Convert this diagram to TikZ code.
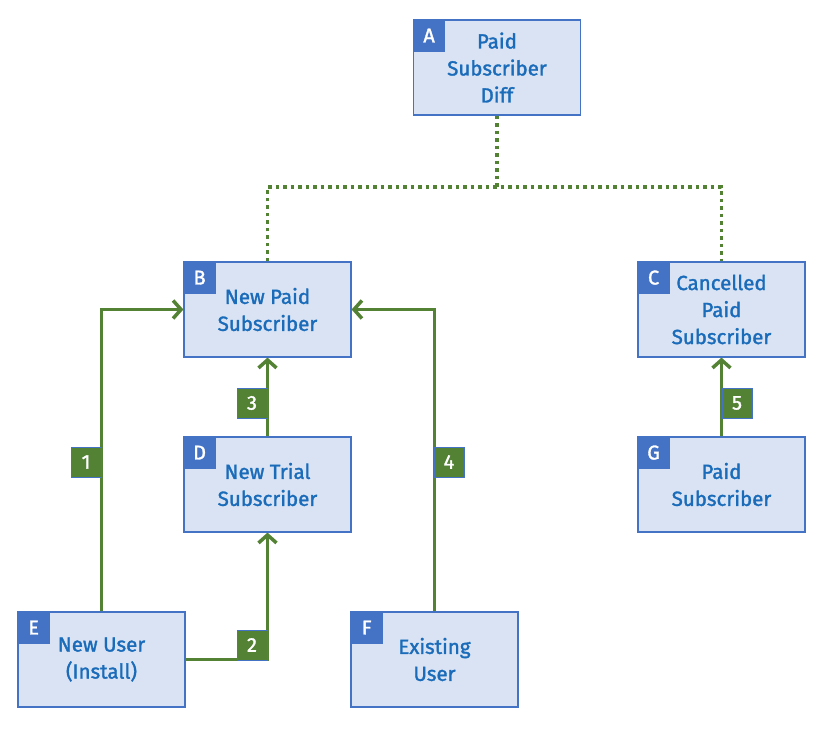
\documentclass[tikz,border=0pt]{standalone}
\usepackage{fontspec}
\setmainfont[FakeBold=1.6]{Fira Sans}
\usetikzlibrary{arrows.meta}
\definecolor{boxfill}{HTML}{DAE3F3}
\definecolor{boxline}{HTML}{4472C4}
\definecolor{txtblue}{HTML}{1A6CBA}
\definecolor{grn}{HTML}{548235}
\tikzset{
  box/.style={draw=boxline, line width=1.2pt, fill=boxfill, minimum width=167pt, minimum height=95pt, inner sep=0pt, align=center, text=txtblue, font=\fontsize{20.5}{27}\selectfont},
  badge/.style={fill=boxline, minimum width=32pt, minimum height=32pt, inner sep=0pt, text=white, font=\fontsize{20}{20}\selectfont, anchor=north west},
  num/.style={fill=grn, draw=boxline, line width=0.6pt, minimum width=30pt, minimum height=30pt, inner sep=0pt, text=white, font=\fontsize{20}{20}\selectfont},
  link/.style={draw=grn, line width=3.5pt, -{Straight Barb[length=8pt,width=18pt,line width=3.5pt]}},
  dots/.style={draw=grn, line width=3.5pt, dash pattern=on 3.5pt off 4pt},
}
\begin{document}
\begin{tikzpicture}[x=1pt,y=-1pt]
\useasboundingbox (0,0) rectangle (828,731);
\node[box] (A) at (497,67.5) {Paid\\Subscriber\\Diff};
\node[box] (B) at (267.5,309.5) {New Paid\\Subscriber};
\node[box] (C) at (721.5,309.5) {Cancelled\\Paid\\Subscriber};
\node[box] (D) at (267.5,484.5) {New Trial\\Subscriber};
\node[box] (G) at (721.5,484.5) {Paid\\Subscriber};
\node[box] (E) at (101.5,659.5) {New User\\(Install)};
\node[box] (F) at (434.5,659.5) {Existing\\User};
\foreach \n/\l in {A/A,B/B,C/C,D/D,G/G,E/E,F/F}{
  \node[badge] (bd\n) at (\n.north west) {\l};
}
% dotted tree
\coordinate (junc) at (497,187);
\draw[dots] (A.south) -- (junc);
\draw[dots] (B.north) -- (B.north |- junc) -- (C.north |- junc) -- (C.north);
% arrows
\draw[link] (E.north) -- (E.north |- B.west) -- (B.west);
\draw[link] (E.east) -- (D.south |- E.east) -- (D.south);
\draw[link] (D.north) -- (B.south);
\draw[link] (F.north) -- (F.north |- B.east) -- (B.east);
\draw[link] (G.north) -- (C.south);
% number labels
\node[num] (n1) at (86,462) {1};
\node[num] (n2) at (252,645) {2};
\node[num] (n3) at (252,403) {3};
\node[num] (n4) at (449,462) {4};
\node[num] (n5) at (737,403) {5};
\end{tikzpicture}
\end{document}
